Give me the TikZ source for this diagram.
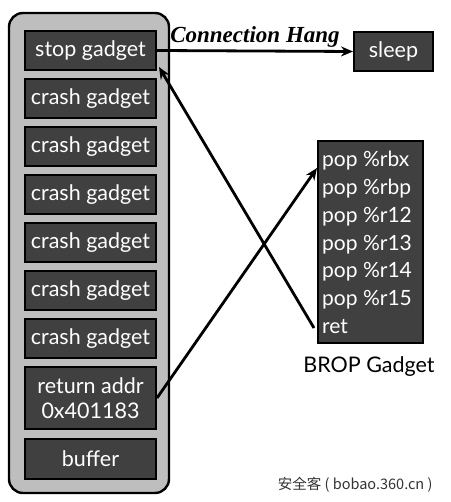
\documentclass[tikz,border=0pt]{standalone}
\usepackage{fontspec}
\setmainfont{Lato}
\newfontfamily\hangfont{Liberation Serif}
\newfontfamily\cjkfont{Noto Sans CJK SC}
\usetikzlibrary{arrows.meta}

\definecolor{boxgray}{HTML}{404040}
\definecolor{stackgray}{HTML}{BEBEBE}

\begin{document}
\begin{tikzpicture}[x = 1pt, y = -1pt, > = {Stealth[length = 12pt, width = 10pt]},
    gadget/.style = {draw = black, line width = 2pt, fill = boxgray, text = white,
        minimum width = 131pt, minimum height = 39pt, inner sep = 0pt,
        anchor = north west, font = \fontsize{21.5}{25}\selectfont},
    link/.style = {->, line width = 2.8pt}]

        \useasboundingbox (0, 0) rectangle (450, 502);

        % The stack and its slots.
        \draw[fill = stackgray, line width = 2.4pt, rounded corners = 14pt]
            (9, 13) rectangle (169, 493);
        \node[gadget] (stop) at (24, 30) {stop gadget};
        \foreach \i/\y in {1/78, 2/126, 3/174, 4/222, 5/270, 6/318}
            \node[gadget] (crash\i) at (24, \y) {crash gadget};
        \node[gadget, minimum height = 62pt, align = center] (ret) at (24, 366)
            {return addr\\0x401183};
        \node[gadget, minimum height = 40pt] (buffer) at (24, 438) {buffer};

        % The targets on the right.
        \node[gadget, minimum width = 79pt] (sleep) at (353, 31) {sleep};
        \node[gadget, minimum width = 105pt, minimum height = 202pt] (brop) at (317, 140) {};
        \node[anchor = north west, align = left, inner sep = 0pt, text = white,
            font = \fontsize{21}{27.8}\selectfont] (bropcode) at (322, 151)
            {pop \%rbx\\pop \%rbp\\pop \%r12\\pop \%r13\\pop \%r14\\pop \%r15\\ret};
        \node[font = \fontsize{21.5}{25}\selectfont] (bropname) at (369, 367) {BROP Gadget};

        % Where the control goes.
        \coordinate (ropin) at ([yshift = 74pt]brop.west);
        \coordinate (ropret) at ([xshift = -3pt, yshift = 16pt]brop.south west);
        \coordinate (stophit) at ([xshift = 2pt, yshift = 4pt]stop.south east);
        \draw[link] (stop.east) to node[above, yshift = -1pt,
            font = \hangfont\bfseries\itshape\fontsize{23}{25}\selectfont]
            {Connection Hang} (sleep.west);
        \draw[link] (ret.east) to (ropin);
        \draw[link] (ropret) to (stophit);

        \node[anchor = east, font = \cjkfont\fontsize{14.5}{16}\selectfont, text = black!80] (mark)
            at (436, 485) {安全客 ( bobao.360.cn )};
    \end{tikzpicture}
\end{document}
